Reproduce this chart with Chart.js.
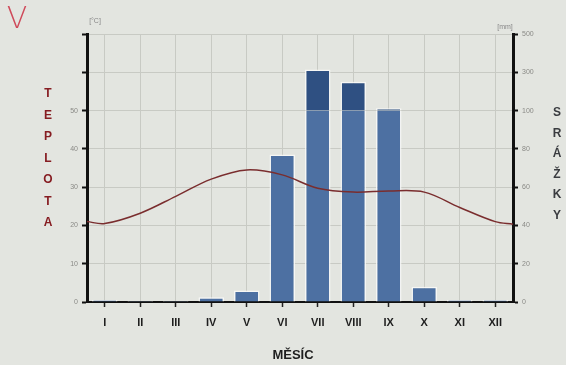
<!DOCTYPE html>
<html>
<head>
<meta charset="utf-8">
<script src="https://cdn.jsdelivr.net/npm/chart.js@4.4.0/dist/chart.umd.min.js"></script>
<style>
  body { margin: 0; background: #e3e5e0; }
  #wrap { width: 566px; height: 365px; }
</style>
</head>
<body>
<div id="wrap"><canvas id="graph-canvas"></canvas></div>
<script>
// climate diagram data
var months = ['I','II','III','IV','V','VI','VII','VIII','IX','X','XI','XII'];
var precip = [1, 0.5, 0.5, 2.5, 6, 77, 315, 250, 112, 8, 1, 1];   // mm
var temp = [20.5, 23.2, 27.6, 32.1, 34.5, 33.2, 29.7, 28.7, 29.0, 28.7, 24.7, 21.0]; // °C
var tempEdges = [21.0, 20.3]; // line start / end at the axes
var tempTicks = [0, 10, 20, 30, 40, 50];
var precipTicks = [0, 20, 40, 60, 80, 100, 300, 500];

// broken precip scale: 2 mm per unit up to 100 mm, then 20 mm per unit
function lowPart(p) { return Math.min(p, 100) / 2; }
function highPart(p) { return p > 100 ? (p - 100) / 20 : 0; }

var tempPoints = [{x: 0, y: tempEdges[0]}];
for (let i = 0; i < temp.length; i++) {
  tempPoints.push({x: i + 0.5, y: temp[i]});
}
tempPoints.push({x: 12, y: tempEdges[1]});

var font = 'Liberation Sans, Arial, sans-serif';

//draws the extra labels around the plot
var labelsPlugin = {
  id: 'labels',
  afterDraw(chart) {
    const ctx = chart.ctx;
    ctx.save();
    ctx.textAlign = 'center';
    ctx.textBaseline = 'middle';
    ctx.fillStyle = '#888';
    ctx.font = '7px ' + font;
    ctx.fillText('[°C]', 95, 21);
    ctx.fillText('[mm]', 505, 27);

    ctx.font = 'bold 12px ' + font;
    ctx.fillStyle = '#861d22';
    'TEPLOTA'.split('').forEach((ch, i) => ctx.fillText(ch, 48, 94 + i * 21.5));
    ctx.fillStyle = '#3a3c40';
    'SRÁŽKY'.split('').forEach((ch, i) => ctx.fillText(ch, 557, 113 + i * 20.5));

    ctx.fillStyle = '#1e1e1e';
    ctx.font = 'bold 13px ' + font;
    ctx.fillText('MĚSÍC', 293, 355);

    ctx.fillStyle = '#cf4a5a';
    ctx.font = '200 30px DejaVu Sans, sans-serif';
    ctx.fillText('V', 17, 20);
    ctx.restore();
  }
};

var chart = new Chart(document.getElementById('graph-canvas'), {
  type: 'bar',
  data: {
    labels: months,
    datasets: [
      {
        label: 'srážky',
        data: precip.map(lowPart),
        yAxisID: 'y2',
        xAxisID: 'x',
        stack: 'p',
        grouped: false,
        backgroundColor: '#4d70a2',
        borderColor: 'rgba(250,250,248,0.85)',
        borderWidth: ctx => ({top: precip[ctx.dataIndex] <= 100 ? 1.5 : 0, left: 1.5, right: 1.5, bottom: 0}),
        borderSkipped: 'bottom',
        barPercentage: 0.72,
        categoryPercentage: 1,
        order: 2
      },
      {
        label: 'srážky nad 100',
        data: precip.map(highPart),
        yAxisID: 'y2',
        xAxisID: 'x',
        stack: 'p',
        grouped: false,
        backgroundColor: '#2f5082',
        borderColor: 'rgba(250,250,248,0.85)',
        borderWidth: {top: 1.5, left: 1.5, right: 1.5, bottom: 0},
        borderSkipped: 'bottom',
        barPercentage: 0.72,
        categoryPercentage: 1,
        order: 2
      },
      {
        type: 'line',
        label: 'teplota',
        data: tempPoints,
        yAxisID: 'y',
        xAxisID: 'xl',
        borderColor: '#7a2d2e',
        borderWidth: 1.5,
        tension: 0.35,
        pointRadius: 0,
        order: 1
      }
    ]
  },
  options: {
    responsive: true,
    maintainAspectRatio: false,
    animation: false,
    layout: {padding: {top: 34, left: 0, right: 0, bottom: 0}},
    plugins: {legend: {display: false}, tooltip: {enabled: false}},
    scales: {
      x: {
        stacked: true,
        afterFit: s => { s.height = 63; },
        grid: {offset: false, color: '#c8cac4', tickColor: '#222', tickLength: 5, tickWidth: 1.5},
        border: {color: '#111', width: 2},
        ticks: {color: '#1e1e1e', font: {family: font, size: 11, weight: 'bold'}, padding: 9}
      },
      xl: {
        type: 'linear',
        display: false,
        offset: false,
        min: 0,
        max: 12
      },
      y: {
        position: 'left',
        min: 0,
        max: 70,
        afterFit: s => { s.width = 87; },
        afterBuildTicks: s => { s.ticks = [0,10,20,30,40,50,60,70].map(v => ({value: v})); },
        grid: {color: '#c8cac4', tickColor: '#111', tickLength: 5, tickWidth: 2},
        border: {color: '#111', width: 3},
        ticks: {
          color: '#8a8a86',
          font: {family: font, size: 7},
          padding: 4,
          callback: v => tempTicks.includes(v) ? v : ''
        }
      },
      y2: {
        position: 'right',
        stacked: true,
        min: 0,
        max: 70,
        afterFit: s => { s.width = 53; },
        afterBuildTicks: s => { s.ticks = [0,10,20,30,40,50,60,70].map(v => ({value: v})); },
        grid: {drawOnChartArea: false, tickColor: '#111', tickLength: 5, tickWidth: 2},
        border: {color: '#111', width: 3},
        ticks: {
          color: '#8a8a86',
          font: {family: font, size: 7},
          padding: 4,
          callback: (v, i) => precipTicks[i]
        }
      }
    }
  },
  plugins: [labelsPlugin]
});
</script>
</body>
</html>
